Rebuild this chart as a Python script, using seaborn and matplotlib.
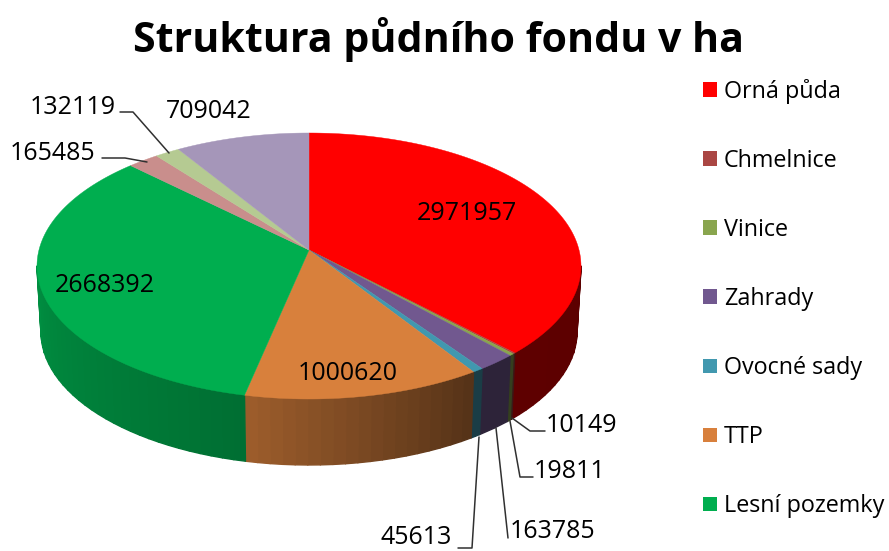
import numpy as np
import matplotlib
matplotlib.use("Agg")
import matplotlib.pyplot as plt
from matplotlib.patches import Patch
import seaborn as sns

categories = ["Orná půda", "Chmelnice", "Vinice", "Zahrady", "Ovocné sady", "TTP",
              "Lesní pozemky", "Zastavěné plochy", "Vodní plochy", "Ostatní plochy"]
values = [2971957, 10149, 19811, 163785, 45613, 1000620, 2668392, 165485, 132119, 709042]
legend_count = 7
top_hex = ["#FF0000", "#AA4643", "#89A54E", "#71588F", "#4198AF", "#D8803C",
           "#00AE4F", "#C98E8C", "#B5CA92", "#A596B9"]
# wall brightness at the start and end of each visible slice
wall_shade = [(0.33, 0.37), (0.35, 0.35), (0.38, 0.38), (0.40, 0.40), (0.40, 0.40),
              (0.40, 0.72), (0.64, 0.95), (0.9, 0.9), (0.9, 0.9), (0.9, 0.9)]
title_text = "Struktura půdního fondu v ha"

sns.set_theme(style="white")
palette = sns.color_palette(top_hex)
FONT = "Open Sans"
plt.rcParams["font.family"] = [FONT, "DejaVu Sans"]

fig = plt.figure(figsize=(8.89, 5.51), dpi=100)
ax = fig.add_axes([0, 0, 1, 1])
ax.set_xlim(0, 889)
ax.set_ylim(551, 0)
ax.axis("off")

CX, CY, RX, RY = 309, 266, 272, 133
APEX = -16 / RY
DEPTH, RX_B = 66, 268


def rim(theta):
    """Normalised rim point hit by a ray from the apex at clockwise angle theta."""
    dx, dy = np.sin(theta), -np.cos(theta)
    ad = APEX * dy
    t = -ad + np.sqrt(ad ** 2 + 1 - APEX ** 2)
    return dx * t, APEX + dy * t


frac = np.array(values, dtype=float) / np.sum(values)
edges = np.concatenate([[0], np.cumsum(frac)]) * 2 * np.pi

# walls: smooth strips with a hairline join
for i in range(len(values)):
    t = np.linspace(edges[i], edges[i + 1], max(3, int(frac[i] * 160)))
    px, py = rim(t)
    s0, s1 = wall_shade[i]
    shades = np.linspace(s0, s1, len(t) - 1)
    for j in range(len(t) - 1):
        if py[j] < 0 and py[j + 1] < 0:
            continue
        ya, yb = max(py[j], 0), max(py[j + 1], 0)
        xa = px[j] if py[j] >= 0 else np.sign(px[j])
        xb = px[j + 1] if py[j + 1] >= 0 else np.sign(px[j + 1])
        col = tuple(np.array(palette[i]) * shades[j])
        ax.fill([CX + RX * xa, CX + RX * xb, CX + RX_B * xb, CX + RX_B * xa],
                [CY + RY * ya, CY + RY * yb, CY + DEPTH + RY * yb, CY + DEPTH + RY * ya],
                facecolor=col, edgecolor=col, lw=1.0, zorder=2, joinstyle="round")

# top face
for i in range(len(values)):
    t = np.linspace(edges[i], edges[i + 1], max(3, int(frac[i] * 400)))
    px, py = rim(t)
    ax.fill(np.r_[CX, CX + RX * px], np.r_[CY + RY * APEX, CY + RY * py],
            color=palette[i], lw=0.3, zorder=3)

# data labels
label_xy = {0: (467, 214), 1: (581, 425), 2: (570, 471), 3: (553, 532), 4: (416, 537),
            5: (348, 373), 6: (105, 286), 7: (53, 153), 8: (73, 107), 9: (209, 111)}
for i, (x, y) in label_xy.items():
    ax.text(x, y, str(values[i]), ha="center", va="center", fontsize=18,
            color="black", zorder=5)

leaders = {1: [(512, 418), (530, 431), (545, 431)],
           2: [(510, 421), (520, 477), (533, 477)],
           3: [(496, 428), (508, 538)],
           4: [(479, 437), (472, 548), (458, 548)],
           7: [(102, 158), (125, 158), (147, 162)],
           8: [(120, 112), (133, 112), (169, 153)]}
for pts in leaders.values():
    xs, ys = zip(*pts)
    ax.plot(xs, ys, color="#303030", lw=1.1, zorder=4)

ax.text(438.5, 40, title_text, ha="center", va="center", fontsize=29.6,
        fontweight="bold", color="black")

handles = [Patch(facecolor=palette[i], edgecolor="none", label=categories[i])
           for i in range(legend_count)]
ax.legend(handles=handles, loc="upper left", bbox_to_anchor=(703, 79),
          bbox_transform=ax.transData, frameon=False, fontsize=16.8,
          labelcolor="black", handlelength=0.6, handleheight=0.6, handletextpad=0.3,
          labelspacing=1.93, borderpad=0, borderaxespad=0)

fig.savefig("out.png", dpi=100, facecolor="white")
